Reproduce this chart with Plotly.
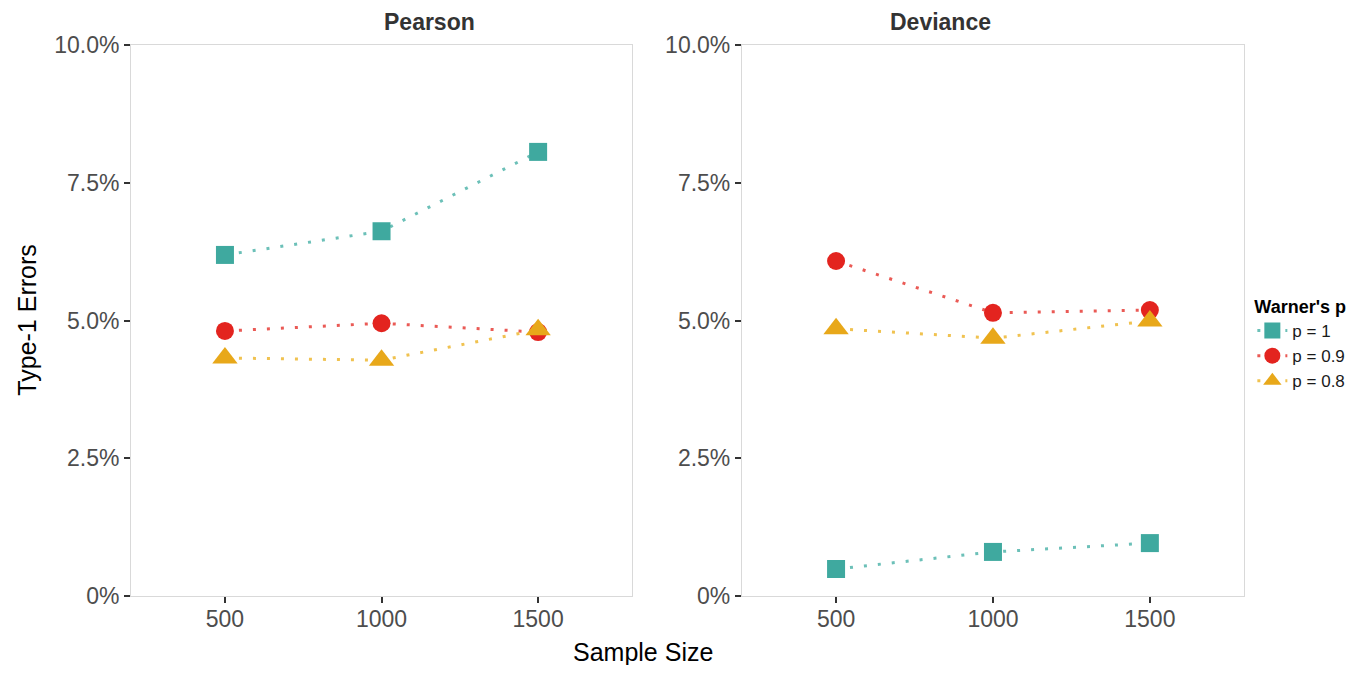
import plotly.graph_objects as go

sample_sizes = [500, 1000, 1500]
series_names = ["p = 1", "p = 0.9", "p = 0.8"]
pearson = {
    "p = 1": [6.19, 6.62, 8.06],
    "p = 0.9": [4.81, 4.95, 4.79],
    "p = 0.8": [4.32, 4.28, 4.83],
}
deviance = {
    "p = 1": [0.49, 0.80, 0.96],
    "p = 0.9": [6.08, 5.14, 5.19],
    "p = 0.8": [4.85, 4.68, 4.99],
}
y_tickvals = [0, 2.5, 5.0, 7.5, 10.0]
y_ticktext = ["0%", "2.5%", "5.0%", "7.5%", "10.0%"]
panel_titles = ["Pearson", "Deviance"]

colors = {"p = 1": "#3fa99f", "p = 0.9": "#e3241f", "p = 0.8": "#e8a81a"}
symbols = {"p = 1": "square", "p = 0.9": "circle", "p = 0.8": "triangle-up"}
sizes = {"p = 1": 18, "p = 0.9": 18, "p = 0.8": 22}
line_colors = {"p = 1": "#6cc0b8", "p = 0.9": "#ea5a55", "p = 0.8": "#f0c250"}

FONT = "Liberation Sans, Arial, sans-serif"
fig = go.Figure()
for i, data in enumerate([pearson, deviance]):
    xa = "x" if i == 0 else "x2"
    ya = "y" if i == 0 else "y2"
    for name in series_names:
        fig.add_trace(go.Scatter(
            x=sample_sizes, y=data[name], name=name, mode="lines+markers",
            xaxis=xa, yaxis=ya, legendgroup=name, showlegend=(i == 0),
            line=dict(color=line_colors[name], width=3, dash="3px,11px"),
            marker=dict(symbol=symbols[name], size=sizes[name], color=colors[name],
                        line=dict(width=0)),
        ))

axis_common = dict(showgrid=False, zeroline=False, showline=True, mirror=True,
                   linecolor="#d9d9d9", linewidth=1, ticks="outside", ticklen=6,
                   tickcolor="#333333", tickwidth=1.5,
                   tickfont=dict(family=FONT, size=23, color="#4d4d4d"))
xcommon = dict(axis_common, range=[200, 1800], tickvals=sample_sizes, ticklabelstandoff=-4)
ycommon = dict(axis_common, range=[0, 10], tickvals=y_tickvals, ticktext=y_ticktext)

fig.update_layout(
    width=1354, height=657,
    margin=dict(l=123, r=116, t=37, b=69),
    paper_bgcolor="white", plot_bgcolor="white",
    font=dict(family=FONT),
    xaxis=dict(xcommon, domain=[0, 0.4502], anchor="y"),
    xaxis2=dict(xcommon, domain=[0.5489, 1], anchor="y2"),
    yaxis=dict(ycommon, anchor="x"),
    yaxis2=dict(ycommon, anchor="x2"),
    legend=dict(x=1.0075, y=0.556, xanchor="left", yanchor="top",
                bgcolor="rgba(0,0,0,0)",
                title=dict(text="<b>Warner's p</b>", font=dict(family=FONT, size=18, color="black")),
                font=dict(family=FONT, size=17, color="#1a1a1a"),
                tracegroupgap=0, itemwidth=30),
    showlegend=True,
)

annotations = [
    dict(text="<b>" + panel_titles[0] + "</b>", x=0.2251, y=1.0, xref="paper", yref="paper",
         yanchor="bottom", yshift=8, showarrow=False, font=dict(family=FONT, size=23, color="#333333")),
    dict(text="<b>" + panel_titles[1] + "</b>", x=0.7745, y=1.0, xref="paper", yref="paper",
         yanchor="bottom", yshift=8, showarrow=False, font=dict(family=FONT, size=23, color="#333333")),
    dict(text="Sample Size", x=0.4596, y=-0.1016, xref="paper", yref="paper",
         xanchor="center", yanchor="middle", showarrow=False, font=dict(family=FONT, size=25, color="black")),
    dict(text="Type-1 Errors", x=-0.0942, y=0.5, xref="paper", yref="paper", textangle=-90,
         xanchor="center", yanchor="middle", showarrow=False, font=dict(family=FONT, size=25, color="black")),
]
fig.update_layout(annotations=annotations)
fig.write_html("out.html")
